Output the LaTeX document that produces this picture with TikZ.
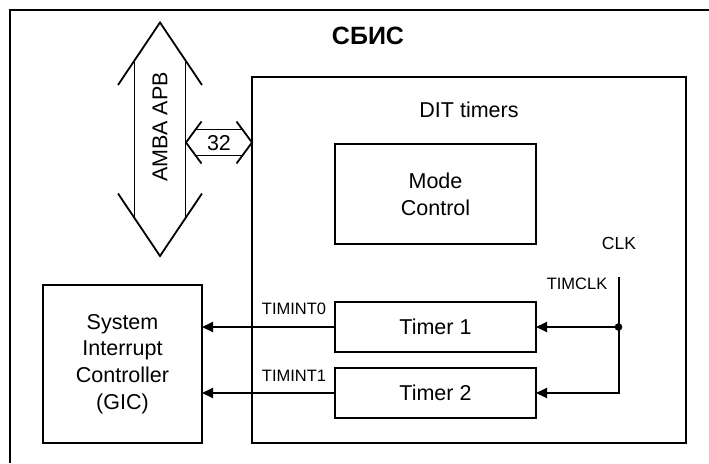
\documentclass[tikz,border=0pt]{standalone}
\usepackage{fontspec}
\setmainfont{Liberation Sans}
\usetikzlibrary{arrows.meta}
\begin{document}
\begin{tikzpicture}[x=1pt,y=-1pt,line width=2pt,
  box/.style={draw,rectangle,inner sep=0pt,outer sep=0pt,align=center,font=\fontsize{21.5}{26.7}\selectfont},
  lbl/.style={inner sep=0pt,font=\fontsize{21.5}{26.7}\selectfont},
  sig/.style={inner sep=0pt,font=\fontsize{16.5}{19}\selectfont},
  arr/.style={-{Triangle[length=11pt,width=10pt]}},
  bus/.style={line width=1.8pt}]
\useasboundingbox (0,0) rectangle (709,463);
% outer frame (cut at right and bottom)
\draw (10,463) -- (10,10) -- (709,10);
\node[inner sep=0pt,font=\fontsize{25}{28}\selectfont\bfseries] (sbis) at (368,36) {СБИС};
% DIT timers block
\node[box,minimum width=434,minimum height=366] (dit) at (469,260) {};
\node[lbl] (ditl) at (469,110) {DIT timers};
\node[box,minimum width=201,minimum height=100] (mode) at (435.5,194) {Mode\\Control};
\node[box,minimum width=201,minimum height=50] (t1) at (435.5,327) {Timer 1};
\node[box,minimum width=201,minimum height=50] (t2) at (435.5,393) {Timer 2};
\node[box,minimum width=159,minimum height=158] (gic) at (122.5,364) {System\\Interrupt\\Controller\\(GIC)};
% clock
\node[sig,font=\fontsize{17.5}{20}\selectfont] (clkl) at (619,243) {CLK};
\node[sig] (timclk) at (577,284) {TIMCLK};
\coordinate (clktop) at (618.5,277);
\coordinate (dot) at (618.5,327);
\draw[arr] (clktop) |- (t2.east);
\draw[arr] (dot) -- (t1.east);
\fill (dot) circle (3.8);
% interrupts
\node[sig] (ti0) at (294,309) {TIMINT0};
\node[sig] (ti1) at (294,376) {TIMINT1};
\draw[arr] (t1.west) -- (t1.west -| gic.east);
\draw[arr] (t2.west) -- (t2.west -| gic.east);
% AMBA APB bus
\draw[bus] (118,85) -- (160,22.5) -- (202,85);
\draw[bus] (134.5,60.4) -- (134.5,218.1);
\draw[bus] (185.5,60.4) -- (185.5,218.1);
\draw[bus] (118,193.5) -- (160,256) -- (202,193.5);
\node[lbl,rotate=90] (amba) at (160,127) {AMBA APB};
% 32-bit link
\draw[bus] (201.5,121.5) -- (186,142.5) -- (201.5,163.5);
\draw[bus] (236.5,121.5) -- (252,142.5) -- (236.5,163.5);
\draw[bus] (195.6,129.5) -- (242.4,129.5);
\draw[bus] (195.6,155.5) -- (242.4,155.5);
\node[lbl] (w32) at (219,143) {32};
\end{tikzpicture}
\end{document}
